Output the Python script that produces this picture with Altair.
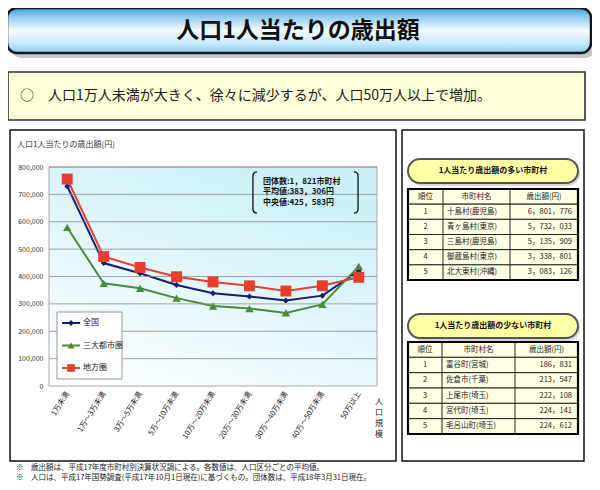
import altair as alt
import pandas as pd

# ---------------- data ----------------
categories = ["1万未満", "1万～3万未満", "3万～5万未満", "5万～10万未満", "10万～20万未満",
              "20万～30万未満", "30万～40万未満", "40万～50万未満", "50万以上"]
series_names = ["全国", "三大都市圏", "地方圏"]
zenkoku = [730000, 449000, 412000, 369000, 339000, 327000, 312000, 330000, 420000]
sandai = [579000, 375000, 357000, 321000, 292000, 283000, 267000, 298000, 437000]
chiho = [756000, 473000, 433000, 399000, 380000, 366000, 347000, 366000, 397000]
y_ticks = [0, 100000, 200000, 300000, 400000, 500000, 600000, 700000, 800000]

ranks = ["1", "2", "3", "4", "5"]
top_names = ["十島村(鹿児島)", "青ヶ島村(東京)", "三島村(鹿児島)", "御蔵島村(東京)", "北大東村(沖縄)"]
top_amounts = ["6，801，776", "5，732，033", "5，135，909", "3，338，801", "3，083，126"]
low_names = ["富谷町(宮城)", "佐倉市(千葉)", "上尾市(埼玉)", "宮代町(埼玉)", "毛呂山町(埼玉)"]
low_amounts = ["186，831", "213，547", "222，108", "224，141", "224，612"]
table_header = ["順位", "市町村名", "歳出額(円)"]

title_text = "人口1人当たりの歳出額"
subtitle_text = "○　人口1万人未満が大きく、徐々に減少するが、人口50万人以上で増加。"
ytitle_text = "人口1人当たりの歳出額(円)"
note_lines = ["団体数:1，821市町村", "平均値:383，306円", "中央値:425，583円"]
footnotes = ["※　歳出額は、平成17年度市町村別決算状況調による。各数値は、人口区分ごとの平均値。",
             "※　人口は、平成17年国勢調査(平成17年10月1日現在)に基づくもの。団体数は、平成18年3月31日現在。"]
table1_title = "1人当たり歳出額の多い市町村"
table2_title = "1人当たり歳出額の少ない市町村"

# ---------------- layout ----------------
FONT = "Noto Sans CJK JP"
OX, OY = 49, 167          # page position of the plot area's top-left
W, H = 328, 219

colors = ["#1B1B6E", "#4A8A38", "#E5402F"]

rows = []
for s, vals in zip(series_names, [zenkoku, sandai, chiho]):
    for i, (c, v) in enumerate(zip(categories, vals)):
        rows.append({"category": c, "series": s, "value": v, "idx": i})
df = pd.DataFrame(rows)
dummy = pd.DataFrame({"a": [0]})


def box(x1, y1, x2, y2, **kw):
    return alt.Chart(dummy).mark_rect(**kw).encode(
        x=alt.value(x1 - OX), x2=alt.value(x2 - OX),
        y=alt.value(y1 - OY), y2=alt.value(y2 - OY))


def label(text, px, py, **kw):
    kw.setdefault("baseline", "middle")
    return alt.Chart(dummy).mark_text(text=text, **kw).encode(
        x=alt.value(px - OX), y=alt.value(py - OY))


def vline(px, y1, y2, **kw):
    return alt.Chart(dummy).mark_rule(**kw).encode(
        x=alt.value(px - OX), y=alt.value(y1 - OY), y2=alt.value(y2 - OY))


title_grad = alt.LinearGradient(
    gradient="linear", x1=0, x2=0, y1=0, y2=1,
    stops=[alt.GradientStop(offset=0, color="#3D9BDA"),
           alt.GradientStop(offset=0.18, color="#8CC9EE"),
           alt.GradientStop(offset=0.5, color="#F5FBFF"),
           alt.GradientStop(offset=0.78, color="#C8E9FA"),
           alt.GradientStop(offset=1, color="#86CDF2")])

plot_grad = alt.LinearGradient(
    gradient="linear", x1=0, y1=1, x2=0.55, y2=0,
    stops=[alt.GradientStop(offset=0, color="#FFFFFF"),
           alt.GradientStop(offset=1, color="#CDF1F8")])

decor = [
    box(11, 12, 595, 58, fill="#9A9A9A", opacity=0.55, cornerRadius=10),
    box(7, 8, 591, 53, fill=title_grad, stroke="#15151F", strokeWidth=2.5, cornerRadius=10),
    label(title_text, 298, 31, fontSize=23, fontWeight="bold", align="center", color="#111"),
    box(8, 72, 585, 120, fill="#FFFFD9", stroke="#333", strokeWidth=1.6),
    label(subtitle_text, 20, 96, fontSize=14, align="left", color="#1A1A1A"),
    box(10, 130, 396, 461, fill="white", stroke="#111", strokeWidth=1.5),
    box(402, 130, 584, 461, fill="white", stroke="#111", strokeWidth=1.5),
    label(ytitle_text, 17, 145, fontSize=8, align="left", color="#333"),
    label(footnotes[0], 16, 467.5, fontSize=7.5, align="left", color="#222"),
    label(footnotes[1], 16, 477.5, fontSize=7.5, align="left", color="#222"),
    box(0 + OX, 0 + OY, W + OX, H + OY, fill=plot_grad, stroke="#A8A8A8", strokeWidth=1),
]

# ---------------- main chart ----------------
x_enc = alt.X("category:N", sort=categories, scale=alt.Scale(domain=categories),
              title=None,
              axis=alt.Axis(labelAngle=-58, labelFontSize=7.5, labelColor="#222",
                            ticks=False, domain=False, labelPadding=6, zindex=1,
                            labelAlign="right", labelBaseline="middle", labelOverlap=False))
y_scale = alt.Scale(domain=[0, 800000], nice=False)
y_axis = alt.Axis(values=y_ticks, format=",d", labelFontSize=7, labelColor="#333",
                  ticks=False, domain=False, grid=False, labelPadding=6, zindex=1,
                  labelOverlap=False, labelFlush=False)
y_enc = alt.Y("value:Q", scale=y_scale, title=None, axis=y_axis)
color_scale = alt.Scale(domain=series_names, range=colors)

lines = alt.Chart(df).mark_line(strokeWidth=2).encode(
    x=x_enc, y=y_enc, order="idx:Q",
    color=alt.Color("series:N", scale=color_scale, legend=None))

grid = alt.Chart(pd.DataFrame({"value": y_ticks[1:]})).mark_rule(
    color="#8C8C8C", strokeWidth=0.8).encode(y=y_enc)

marker_specs = [("全国", "diamond", 36, colors[0]),
                ("三大都市圏", "triangle-up", 70, colors[1]),
                ("地方圏", "square", 120, colors[2])]
markers = [
    alt.Chart(df).transform_filter(alt.datum.series == s).mark_point(
        shape=shp, size=sz, filled=True, color=col, opacity=1).encode(x=x_enc, y=y_enc)
    for s, shp, sz, col in marker_specs
]

left_br = "M0.1,-1 Q-0.1,-1 -0.1,-0.8 L-0.1,0.8 Q-0.1,1 0.1,1"
right_br = "M-0.1,-1 Q0.1,-1 0.1,-0.8 L0.1,0.8 Q0.1,1 -0.1,1"
annot = [
    alt.Chart(dummy).mark_point(shape=left_br, size=1700, filled=False, stroke="#111",
                                strokeWidth=1.3, opacity=1).encode(
        x=alt.value(255 - OX), y=alt.value(192.5 - OY)),
    alt.Chart(dummy).mark_point(shape=right_br, size=1700, filled=False, stroke="#111",
                                strokeWidth=1.3, opacity=1).encode(
        x=alt.value(356 - OX), y=alt.value(192.5 - OY)),
    label(note_lines[0], 263, 181.5, fontSize=8, align="left", color="#111", fontWeight="bold"),
    label(note_lines[1], 263, 192, fontSize=8, align="left", color="#111", fontWeight="bold"),
    label(note_lines[2], 263, 202.5, fontSize=8, align="left", color="#111", fontWeight="bold"),
    alt.Chart(dummy).mark_text(text=["人", "口", "規", "模"], lineHeight=11, fontSize=8,
                               align="center", baseline="top", color="#222").encode(
        x=alt.value(379 - OX), y=alt.value(398 - OY)),
]

main = alt.layer(lines, grid, *markers, *annot)

# ---------------- legend (drawn as its own small layer) ----------------
ldf = pd.DataFrame({"series": series_names})
ly = alt.Y("series:N", scale=alt.Scale(type="point", domain=series_names,
                                       range=[323 - OY, 368 - OY], padding=0),
           axis=None, title=None)
lcolor = alt.Color("series:N", scale=color_scale, legend=None)
legend_child = alt.layer(
    box(57, 312, 122, 379, fill="white", stroke="#999", strokeWidth=1),
    alt.Chart(ldf).mark_rule(strokeWidth=2).encode(
        x=alt.value(62 - OX), x2=alt.value(80 - OX), y=ly, color=lcolor),
    alt.Chart(ldf).mark_point(filled=True, opacity=1).encode(
        x=alt.value(71 - OX), y=ly, color=lcolor,
        shape=alt.Shape("series:N", scale=alt.Scale(domain=series_names,
                                                    range=["diamond", "triangle-up", "square"]),
                        legend=None),
        size=alt.Size("series:N", scale=alt.Scale(domain=series_names, range=[36, 60, 64]),
                      legend=None)),
    alt.Chart(ldf).mark_text(align="left", baseline="middle", fontSize=8, color="#222").encode(
        x=alt.value(83 - OX), y=ly, text="series:N"),
)


# ---------------- tables ----------------
def table(title, names, amounts, pill_y1, pill_y2, top, bottom, c1, c2, left=408, right=578):
    yscale = alt.Scale(type="band", domain=[0, 1, 2, 3, 4, 5], range=[top - OY, bottom - OY],
                       paddingInner=0, paddingOuter=0)
    yenc = alt.Y("row:O", scale=yscale, axis=None, title=None)
    body = pd.DataFrame({"row": [1, 2, 3, 4, 5], "rank": ranks, "name": names, "amount": amounts})
    head = pd.DataFrame({"row": [0], "h1": [table_header[0]], "h2": [table_header[1]],
                         "h3": [table_header[2]]})
    allrows = pd.DataFrame({"row": [0, 1, 2, 3, 4, 5]})
    cells = alt.Chart(allrows).mark_rect(fill="#FFFFE4", stroke="#222", strokeWidth=1).encode(
        x=alt.value(left - OX), x2=alt.value(right - OX), y=yenc)
    ts = dict(fontSize=7.5, baseline="middle", color="#222")
    layers = [
        box(left + 2, pill_y1 + 3, right + 2, pill_y2 + 3, fill="#B0B0B0", opacity=0.5, cornerRadius=12),
        box(left, pill_y1, right, pill_y2, fill="#FFFFA8", stroke="#555", strokeWidth=2, cornerRadius=12),
        label(title, (left + right) / 2, (pill_y1 + pill_y2) / 2, fontSize=8, fontWeight="bold",
              align="center", color="#111"),
        cells,
        vline(c1, top, bottom, color="#222", strokeWidth=1),
        vline(c2, top, bottom, color="#222", strokeWidth=1),
        box(left, top, right, bottom, fill=None, stroke="#000", strokeWidth=2.2),
        alt.Chart(head).mark_text(align="center", **ts).encode(
            x=alt.value((left + c1) / 2 - OX), y=yenc, text="h1:N"),
        alt.Chart(head).mark_text(align="center", **ts).encode(
            x=alt.value((c1 + c2) / 2 - OX), y=yenc, text="h2:N"),
        alt.Chart(head).mark_text(align="center", **ts).encode(
            x=alt.value((c2 + right) / 2 - OX), y=yenc, text="h3:N"),
        alt.Chart(body).mark_text(align="center", **ts).encode(
            x=alt.value((left + c1) / 2 - OX), y=yenc, text="rank:N"),
        alt.Chart(body).mark_text(align="left", **ts).encode(
            x=alt.value(c1 + 4 - OX), y=yenc, text="name:N"),
        alt.Chart(body).mark_text(align="right", **ts).encode(
            x=alt.value(right - 6 - OX), y=yenc, text="amount:N"),
    ]
    return alt.layer(*layers)


table1 = table(table1_title, top_names, top_amounts, 159, 183, 189, 280, 443, 510)
table2 = table(table2_title, low_names, low_amounts, 314, 338, 342, 434, 442, 515)

chart = alt.layer(*decor, main, legend_child, table1, table2).resolve_scale(
    y="independent").properties(
    width=W, height=H,
    autosize=alt.AutoSizeParams(type="none"),
    padding={"left": OX - 8, "top": OY - 8, "right": 592 - (OX + W), "bottom": 488 - (OY + H)},
).configure(font=FONT).configure_view(stroke=None)

chart.save("out.html", embed_options={"renderer": "svg", "actions": False})
